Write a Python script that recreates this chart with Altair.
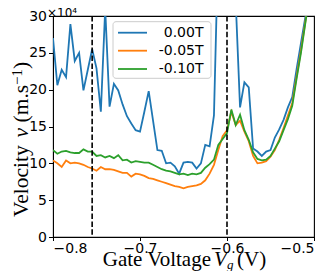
import altair as alt
import pandas as pd

gate_v = [-0.800, -0.795, -0.790, -0.785, -0.780, -0.775, -0.770, -0.765, -0.760, -0.755,
          -0.750, -0.745, -0.740, -0.735, -0.730, -0.725, -0.720, -0.715, -0.710, -0.705,
          -0.700, -0.695, -0.690, -0.685, -0.680, -0.675, -0.670, -0.665, -0.660, -0.655,
          -0.650, -0.645, -0.640, -0.635, -0.630, -0.625, -0.620, -0.615, -0.610, -0.605,
          -0.600, -0.595, -0.590, -0.585, -0.580, -0.575, -0.570, -0.565, -0.560, -0.555,
          -0.550, -0.545, -0.540, -0.535, -0.530, -0.525, -0.520, -0.515, -0.510, -0.505,
          -0.500]

vel_000 = [27.0, 20.6, 22.7, 21.7, 28.9, 23.9, 25.0, 19.9, 22.7, 25.5,
           22.9, 17.0, 31.0, 17.7, 20.8, 19.9, 18.0, 16.4, 15.4, 14.5,
           14.3, 17.0, 19.8, 15.8, 11.8, 11.7, 10.0, 10.1, 9.6, 8.6,
           10.1, 10.2, 10.1, 9.3, 10.0, 12.5, 12.3, 16.5, 40.0, 48.0,
           45.0, 38.0, 32.0, 17.6, 21.0, 20.3, 12.0, 11.6, 11.0, 11.6,
           11.8, 13.5, 14.6, 15.9, 17.6, 19.0, 22.8, 26.3, 29.8, 33.0,
           36.0]

vel_005 = [10.4, 10.0, 9.5, 10.4, 10.0, 10.1, 10.0, 9.8, 9.5, 9.3,
           9.0, 9.5, 9.2, 9.2, 9.1, 8.9, 8.7, 8.7, 8.2, 8.6,
           8.5, 8.3, 8.0, 7.9, 7.7, 7.5, 7.3, 7.1, 6.9, 6.8,
           6.6, 6.8, 6.9, 7.0, 7.2, 7.7, 8.6, 9.8, 11.8, 13.7,
           14.5, 17.0, 15.2, 15.8, 14.3, 13.0, 11.0, 10.0, 10.1, 10.3,
           10.9, 11.8, 13.2, 14.8, 16.5, 18.2, 21.8, 25.3, 29.2, 33.0,
           37.0]

vel_010 = [11.8, 11.3, 11.6, 11.7, 11.5, 11.4, 11.4, 11.9, 11.6, 11.6,
           11.0, 11.1, 10.8, 11.0, 10.7, 11.1, 10.4, 10.5, 10.1, 10.3,
           10.2, 10.1, 10.1, 9.8, 9.5, 9.2, 9.0, 8.9, 8.7, 8.5,
           8.6, 8.4, 8.6, 8.5, 8.7, 9.4, 9.9, 10.5, 12.5, 13.3,
           14.1, 17.3, 15.2, 16.6, 14.5, 13.2, 11.5, 10.6, 10.4, 10.5,
           11.0, 12.0, 13.0, 14.5, 16.0, 17.8, 21.5, 25.0, 29.0, 33.0,
           37.0]

series = ["0.00T", "-0.05T", "-0.10T"]
colors = ["#1f77b4", "#ff7f0e", "#2ca02c"]
vlines = [-0.755, -0.600]
x_ticks = [-0.8, -0.7, -0.6, -0.5]
y_ticks = [0, 5, 10, 15, 20, 25, 30]

W, H = 261, 221
df = pd.DataFrame({
    "gate": gate_v * 3,
    "vel": vel_000 + vel_005 + vel_010,
    "field": [series[0]] * len(gate_v) + [series[1]] * len(gate_v) + [series[2]] * len(gate_v),
})

x_scale = alt.Scale(domain=[-0.8, -0.5], nice=False, zero=False)
y_scale = alt.Scale(domain=[0, 30], nice=False, zero=False)
c_scale = alt.Scale(domain=series, range=colors)

x_axis = alt.Axis(values=x_ticks, title=None, tickSize=3.5, labelPadding=0.5,
                  labelExpr="replace(format(datum.value, '.1f'), '-', '\u2212')")
y_axis = alt.Axis(values=y_ticks, title=None, tickSize=4.5, labelPadding=2)

layers = []
for s in series:
    layers.append(
        alt.Chart(df).transform_filter(alt.datum.field == s)
        .mark_line(strokeWidth=1.8, clip=True)
        .encode(x=alt.X("gate:Q", scale=x_scale, axis=x_axis),
                y=alt.Y("vel:Q", scale=y_scale, axis=y_axis),
                color=alt.Color("field:N", scale=c_scale, legend=None))
    )

vl = alt.Chart(pd.DataFrame({"v": vlines})).mark_rule(
    color="black", strokeDash=[5.5, 2.4], strokeWidth=1.6
).encode(x=alt.X("v:Q", scale=x_scale))
layers.append(vl)

one = pd.DataFrame({"a": [0]})
# legend box
layers.append(alt.Chart(one).mark_rect(
    fill="white", fillOpacity=0.85, stroke="#cccccc", strokeWidth=1, cornerRadius=3
).encode(x=alt.value(60), x2=alt.value(158), y=alt.value(5.7), y2=alt.value(62.3)))

row_y = [16.7, 34.7, 53.0]
for s, c, ry in zip(series, colors, row_y):
    layers.append(alt.Chart(one).mark_rule(color=c, strokeWidth=1.8).encode(
        x=alt.value(65), x2=alt.value(94), y=alt.value(ry)))
    layers.append(alt.Chart(pd.DataFrame({"lab": [s]})).mark_text(
        align="right", baseline="middle", font="DejaVu Sans", fontSize=14, color="black"
    ).encode(x=alt.value(150.5), y=alt.value(ry), text="lab:N"))

def txt(t, x, y, size=21, style="normal", angle=0, align="left", font="Liberation Serif", baseline="alphabetic"):
    return alt.Chart(one).mark_text(
        text=t, align=align, baseline=baseline, font=font, fontSize=size,
        fontStyle=style, angle=angle, color="black"
    ).encode(x=alt.value(x), y=alt.value(y))

# x title pieces
layers.append(txt("Gate Voltage", 158, 250, align="right"))
layers.append(txt("V", 161, 250, style="italic"))
layers.append(txt("g", 174, 252.5, size=13, style="italic"))
layers.append(txt("(V)", 184, 250))
# y title pieces (rotated, reading bottom to top)
layers.append(txt("Velocity", -25.5, 201, size=21.5, angle=270))
layers.append(txt("v", -25.5, 121.5, size=21.5, style="italic", angle=270))
layers.append(txt("(m.s", -25.5, 106.5, size=21.5, angle=270))
layers.append(txt("\u22121", -31.5, 68.9, size=15, angle=270))
layers.append(txt(")", -25.5, 52.9, size=21.5, angle=270))
# offset text
layers.append(txt("\u00d710\u2074", -6, 0.5, size=12, font="DejaVu Sans"))

chart = alt.layer(*layers).properties(
    width=W, height=H,
    autosize=alt.AutoSizeParams(type="none"),
    padding={"left": 45, "top": 8, "right": 10, "bottom": 34},
).configure_view(stroke="black", strokeWidth=1.1).configure_axis(
    grid=False, domainColor="black", tickColor="black", tickWidth=1,
    labelColor="black", labelFont="DejaVu Sans", labelFontSize=14
)

chart.save("out.html", embed_options={"renderer": "svg", "actions": False})
